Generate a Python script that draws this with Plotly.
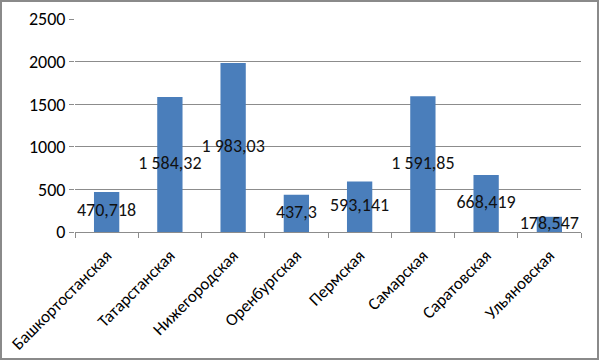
import plotly.graph_objects as go

regions = ["Башкортостанская", "Татарстанская", "Нижегородская", "Оренбургская",
           "Пермская", "Самарская", "Саратовская", "Ульяновская"]
values = [470.718, 1584.32, 1983.03, 437.3, 593.141, 1591.85, 668.419, 178.547]
y_ticks = [0, 500, 1000, 1500, 2000, 2500]


def ru_fmt(v):
    s = "{:.6g}".format(v)
    if "." in s:
        ip, dp = s.split(".")
    else:
        ip, dp = s, ""
    if len(ip) > 3:
        ip = ip[:-3] + " " + ip[-3:]
    return ip + ("," + dp if dp else "")


labels = [ru_fmt(v) for v in values]
font_family = "Carlito, Calibri, 'Open Sans', sans-serif"

fig = go.Figure()
fig.add_trace(go.Bar(x=regions, y=values, marker_color="#4a7ebb",
                     marker_line_width=0, hoverinfo="skip"))
fig.add_trace(go.Scatter(x=regions, y=[v / 2 for v in values], mode="text",
                         text=labels, textposition="middle center",
                         textfont=dict(size=18, color="#111111", family=font_family),
                         hoverinfo="skip", cliponaxis=False))

fig.update_layout(
    width=600, height=361,
    margin=dict(l=75, r=19, t=19, b=129),
    paper_bgcolor="white", plot_bgcolor="white",
    showlegend=False, bargap=0.6,
    font=dict(family=font_family, size=16, color="black"),
    shapes=[dict(type="rect", xref="paper", yref="paper",
                 x0=(1 - 75) / 506, x1=(598 - 75) / 506,
                 y0=(232 - 359) / 213, y1=(232 - 1) / 213,
                 line=dict(color="#8a8a8a", width=2), fillcolor="rgba(0,0,0,0)",
                 layer="below")],
)
fig.update_xaxes(tickangle=-45, ticks="outside", tickson="boundaries", ticklen=5,
                 tickcolor="#8c8c8c", showline=True, linecolor="#8c8c8c",
                 linewidth=1, showgrid=False, tickfont=dict(size=17),
                 ticklabelstandoff=6, automargin=False)
fig.update_yaxes(range=[0, 2500], tickvals=y_ticks, ticks="outside", ticklen=5,
                 tickcolor="#8c8c8c", showgrid=True, gridcolor="#8c8c8c",
                 gridwidth=1, showline=False, zeroline=False,
                 tickfont=dict(size=18), automargin=False)

fig.write_html("out.html", config={"displayModeBar": False},
               post_script="document.body.style.margin='0';document.body.style.padding='0';")
